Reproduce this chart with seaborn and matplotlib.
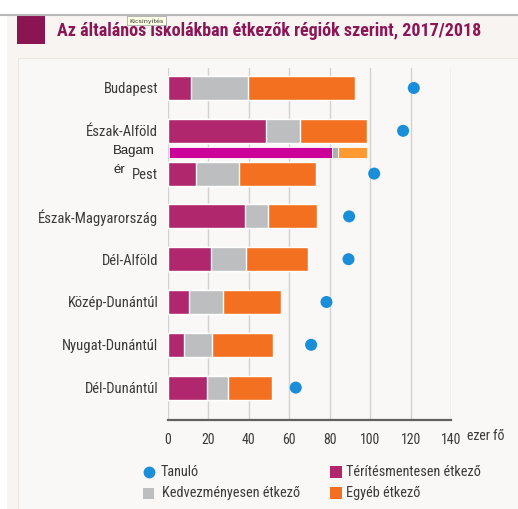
import matplotlib
matplotlib.use("Agg")
import matplotlib.pyplot as plt
import matplotlib.patches as mpatches
from matplotlib import font_manager as fm
import seaborn as sns
import pandas as pd

regions = ["Budapest", "Észak-Alföld", "Pest", "Észak-Magyarország", "Dél-Alföld",
           "Közép-Dunántúl", "Nyugat-Dunántúl", "Dél-Dunántúl"]
teritesmentes = [11.6, 48.7, 13.7, 38.0, 21.5, 10.4, 8.1, 19.5]
kedvezmenyes = [28.0, 16.5, 21.5, 11.5, 17.0, 16.8, 13.8, 10.4]
egyeb = [52.8, 33.3, 37.9, 24.0, 30.8, 28.6, 30.1, 21.4]
tanulo = [121.6, 116.3, 102.0, 89.6, 89.3, 78.4, 70.8, 63.2]

# overlay row "Bagamér"
bag_values = [80.4, 3.4, 14.1]
bag_pos = 1.5

xticks = [0, 20, 40, 60, 80, 100, 120, 140]

C_PURPLE = "#B0276E"
C_GRAY = "#BDBEC0"
C_ORANGE = "#F37021"
C_BLUE = "#1A8ED8"
BAG_COLORS = ["#CC0099", "#AFAFAF", "#FF9A33"]
TITLE_C = "#8A1656"
BG = "#F7F4F1"
PANEL = "#FAF8F6"
TXT = "#3A3A3A"

sns.set_theme(style="white")

# pick a condensed family if one is installed
names = {f.name for f in fm.fontManager.ttflist}
if "Liberation Sans Narrow" in names:
    FAM = ["Liberation Sans Narrow", "DejaVu Sans"]
    SC = 1.0
elif "Roboto Condensed" in names:
    FAM = ["Roboto Condensed", "DejaVu Sans"]
    SC = 0.95
else:
    FAM = ["Liberation Sans", "DejaVu Sans"]
    SC = 0.86
plt.rcParams["font.family"] = FAM

W, H = 518, 509
fig = plt.figure(figsize=(W / 100, H / 100), dpi=100)
fig.patch.set_facecolor(BG)

def fx(px):
    return px / W

def fy(py):
    return 1 - py / H

# white top strip and left strip
fig.patches.append(mpatches.Rectangle((0, fy(14)), 1, 14 / H, transform=fig.transFigure,
                                      facecolor="white", edgecolor="none", zorder=5))
fig.patches.append(mpatches.Rectangle((0, 0), fx(7), 1, transform=fig.transFigure,
                                      facecolor="white", edgecolor="none", zorder=-2))
fig.lines.append(plt.Line2D([0, 1], [fy(14.5), fy(14.5)], transform=fig.transFigure,
                            color="#B8B8B8", lw=1.5, zorder=6))
# inner panel
fig.patches.append(mpatches.Rectangle((fx(18), -0.01), 1, fy(58) + 0.01, transform=fig.transFigure,
                                      facecolor=PANEL, edgecolor="#EAE6E2", lw=0.8, zorder=-1))
# title square
fig.patches.append(mpatches.Rectangle((fx(17), fy(44)), 28 / W, 28 / H, transform=fig.transFigure,
                                      facecolor="#8B1552", edgecolor="none", zorder=2))
fig.text(fx(57), fy(31), "Az általános iskolákban étkezők régiók szerint, 2017/2018",
         fontsize=13.65 * SC, fontweight="bold", color=TITLE_C, va="center", ha="left", zorder=3)
# tooltip
fig.patches.append(mpatches.Rectangle((fx(127), fy(25)), 39 / W, 9 / H, transform=fig.transFigure,
                                      facecolor="#FFFFE6", edgecolor="#9A9A9A", lw=0.5, zorder=7))
fig.text(fx(146.5), fy(20.8), "Kicsinyítés", fontsize=4.6, color="#333333", ha="center",
         va="center", zorder=8, family=["DejaVu Sans"])
# cut-off label top right (partly hidden under the white strip)
fig.text(fx(490), fy(12), "5. áb", fontsize=11, color="#808080", ha="left", va="center", zorder=4)

# main axes
ax = fig.add_axes([fx(168), fy(420), fx(451) - fx(168), fy(68) - fy(420)], zorder=1)
ax.set_facecolor("none")

df = pd.DataFrame({"regio": regions, "t": teritesmentes, "k": kedvezmenyes,
                   "e": egyeb, "tanulo": tanulo})
df["cum_k"] = df["t"] + df["k"]
df["cum_e"] = df["cum_k"] + df["e"]

bw = 0.56
sns.barplot(data=df, x="cum_e", y="regio", order=regions, orient="h", color=C_ORANGE,
            saturation=1, width=bw, ax=ax, zorder=3)
sns.barplot(data=df, x="cum_k", y="regio", order=regions, orient="h", color=C_GRAY,
            saturation=1, width=bw, ax=ax, zorder=3)
sns.barplot(data=df, x="t", y="regio", order=regions, orient="h", color=C_PURPLE,
            saturation=1, width=bw, ax=ax, zorder=3)
sns.scatterplot(data=df, x="tanulo", y="regio", color=C_BLUE, s=75, edgecolor="none",
                ax=ax, zorder=4)

# Bagamér overlay bar
left = 0.5
for v, c in zip(bag_values, BAG_COLORS):
    ax.barh(bag_pos, v, left=left, height=0.25, color=c, edgecolor="white", lw=0.6, zorder=3)
    left += v

ax.set_xlim(0, 140)
ax.set_ylim(7.757, -0.467)
ax.set_xlabel("")
ax.set_ylabel("")
ax.set_xticks(xticks)
ax.set_xticklabels([str(v) for v in xticks])
for xv in xticks:
    ax.axvline(xv, color="#D2D2D2", lw=1.0, zorder=1)

for s in ["top", "right", "left"]:
    ax.spines[s].set_visible(False)
ax.spines["bottom"].set_color("#606060")
ax.spines["bottom"].set_linewidth(1.6)
ax.tick_params(axis="x", direction="in", length=6, width=1.6, color="#606060",
               labelsize=10.5 * SC, labelcolor=TXT, pad=9)
ax.tick_params(axis="y", length=0, labelsize=11.1 * SC, labelcolor=TXT, pad=7)

fig.text(fx(467), fy(436), "ezer fő", fontsize=10.5 * SC, color=TXT, ha="left", va="center")

# Bagamér label pieces
fig.text(fx(113), fy(151), "Bagam", fontsize=9.5, color="#222222", ha="left", va="center",
         family=["Liberation Sans", "DejaVu Sans"])
fig.text(fx(113), fy(170), "ér", fontsize=9.5, color="#222222", ha="left", va="center",
         family=["Liberation Sans", "DejaVu Sans"])

# legend (drawn manually on figure)
fig.lines.append(plt.Line2D([fx(149)], [fy(471.5)], transform=fig.transFigure, marker="o",
                            markersize=8.5, color=C_BLUE, markeredgecolor="none", lw=0))
fig.text(fx(161), fy(471.5), "Tanuló", fontsize=10.8 * SC, color=TXT, va="center", ha="left")
fig.patches.append(mpatches.Rectangle((fx(143), fy(498.5)), 11 / W, 11 / H,
                                      transform=fig.transFigure, facecolor=C_GRAY, edgecolor="none"))
fig.text(fx(162), fy(493), "Kedvezményesen étkező", fontsize=10.8 * SC, color=TXT, va="center", ha="left")
fig.patches.append(mpatches.Rectangle((fx(330), fy(477.5)), 12 / W, 12 / H,
                                      transform=fig.transFigure, facecolor=C_PURPLE, edgecolor="none"))
fig.text(fx(346), fy(471.5), "Térítésmentesen étkező", fontsize=10.8 * SC, color=TXT, va="center", ha="left")
fig.patches.append(mpatches.Rectangle((fx(330), fy(499)), 12 / W, 12 / H,
                                      transform=fig.transFigure, facecolor=C_ORANGE, edgecolor="none"))
fig.text(fx(346), fy(493), "Egyéb étkező", fontsize=10.8 * SC, color=TXT, va="center", ha="left")

fig.savefig("out.png", dpi=100, facecolor=fig.get_facecolor())
